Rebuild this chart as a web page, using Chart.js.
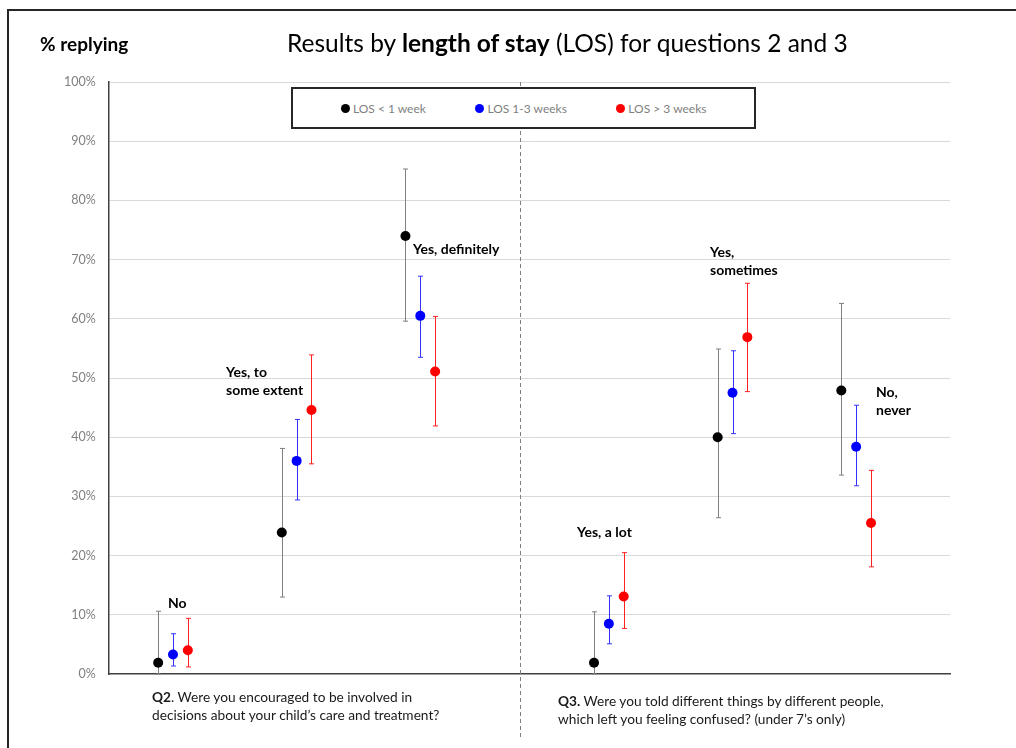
<!DOCTYPE html>
<html>
<head>
<meta charset="utf-8">
<script src="https://cdn.jsdelivr.net/npm/chart.js@4.4.1/dist/chart.umd.min.js"></script>
<style>
  body { margin: 0; background: #fff; }
  #wrap { position: relative; width: 1016px; height: 748px; overflow: hidden; font-family: Lato, sans-serif; }
  #frame { position: absolute; left: 7px; top: 9px; width: 1100px; height: 800px; border-left: 2px solid #262626; border-top: 2px solid #262626; }
  canvas { position: absolute; left: 0; top: 0; }
  .txt { position: absolute; white-space: nowrap; color: #000; }
  #title { left: 287px; top: 28px; font-size: 24.5px; line-height: 30px; }
  #ytitle { left: 40px; top: 33px; font-size: 19px; font-weight: bold; line-height: 22px; }
  #legend { position: absolute; left: 291px; top: 87px; width: 465px; height: 42px; box-sizing: border-box;
            border: 2px solid #262626; background: #fff; display: flex; align-items: center; padding-left: 48px; gap: 49.5px; }
  .item { display: flex; align-items: center; font-size: 12px; color: #7f7f7f; }
  .dot { width: 9px; height: 9px; border-radius: 50%; margin-right: 3px; }
  .lab { font-size: 14px; font-weight: bold; line-height: 17.6px; }
  .q { font-size: 13.7px; line-height: 18px; color: #1a1a1a; }
</style>
</head>
<body>
<div id="wrap">
  <div id="frame"></div>
  <canvas id="chart" width="1016" height="748"></canvas>
  <div id="ytitle" class="txt">% replying</div>
  <div id="title" class="txt">Results by <b>length of stay</b> (LOS) for questions 2 and 3</div>
  <div id="legend"></div>
  <div class="txt q" style="left:152px; top:688px">
    <b>Q2</b>. Were you encouraged to be involved in<br>decisions about your child’s care and treatment?
  </div>
  <div class="txt q" style="left:558px; top:692px">
    <b>Q3.</b> Were you told different things by different people,<br>which left you feeling confused? (under 7’s only)
  </div>
</div>
<script>
// responses for Q2 (first three) and Q3 (last three)
const responses = ['No', 'Yes, to some extent', 'Yes, definitely', 'Yes, a lot', 'Yes, sometimes', 'No, never'];
const responseX = [1, 2, 3, 4.525, 5.525, 6.525];

const seriesNames = ['LOS < 1 week', 'LOS 1-3 weeks', 'LOS > 3 weeks'];

// % replying, with lower / upper confidence limits
const losUnder1 = [1.9, 23.9, 74.0, 1.9, 40.0, 47.9];
const losUnder1Low = [0, 13.0, 59.6, 0, 26.4, 33.6];
const losUnder1High = [10.6, 38.1, 85.3, 10.5, 54.9, 62.6];

const los1to3 = [3.3, 36.0, 60.5, 8.5, 47.5, 38.4];
const los1to3Low = [1.35, 29.4, 53.5, 5.1, 40.6, 31.8];
const los1to3High = [6.8, 43.0, 67.2, 13.2, 54.6, 45.4];

const losOver3 = [4.0, 44.6, 51.1, 13.1, 56.9, 25.5];
const losOver3Low = [1.2, 35.5, 41.9, 7.7, 47.7, 18.1];
const losOver3High = [9.4, 53.9, 60.4, 20.5, 66.0, 34.4];

const yTicks = [0, 10, 20, 30, 40, 50, 60, 70, 80, 90, 100];

// styling / layout
const pointColors = ['#000000', '#0000ff', '#ff0000'];
const errColors = ['#7f7f7f', '#3333ff', '#ff2020'];
const seriesOffset = [-0.12, 0, 0.12];
const dividerX = 3.806;
// label boxes: [left, top] in page pixels
const labelLines = [['No'], ['Yes, to', 'some extent'], ['Yes, definitely'], ['Yes, a lot'], ['Yes,', 'sometimes'], ['No,', 'never']];
const labelPos = [[168, 594], [226, 363], [413, 240], [577, 523], [710, 243], [876, 383]];

const values = [losUnder1, los1to3, losOver3];
const lows = [losUnder1Low, los1to3Low, losOver3Low];
const highs = [losUnder1High, los1to3High, losOver3High];

const datasets = seriesNames.map((name, s) => ({
  label: name,
  data: values[s].map((v, i) => ({ x: responseX[i] + seriesOffset[s], y: v })),
  errLow: lows[s],
  errHigh: highs[s],
  errColor: errColors[s],
  pointRadius: 5,
  pointHoverRadius: 5,
  pointBackgroundColor: pointColors[s],
  pointBorderWidth: 0,
  showLine: false
}));

const errorBars = {
  id: 'errorBars',
  beforeDatasetsDraw(chart) {
    const { ctx, scales: { x, y }, chartArea } = chart;
    ctx.save();
    // dashed divider between the two questions
    const dx = Math.round(x.getPixelForValue(dividerX)) + 0.5;
    ctx.strokeStyle = '#808080';
    ctx.lineWidth = 1;
    ctx.setLineDash([4, 3]);
    ctx.beginPath();
    ctx.moveTo(dx, chartArea.top);
    ctx.lineTo(dx, chart.height - 11);
    ctx.stroke();
    ctx.setLineDash([]);
    chart.data.datasets.forEach((ds) => {
      ctx.strokeStyle = ds.errColor;
      ctx.lineWidth = 1;
      ds.data.forEach((p, i) => {
        const px = Math.round(x.getPixelForValue(p.x)) + 0.5;
        const lo = y.getPixelForValue(ds.errLow[i]);
        const hi = y.getPixelForValue(ds.errHigh[i]);
        ctx.beginPath();
        ctx.moveTo(px, lo); ctx.lineTo(px, hi);
        ctx.moveTo(px - 2.5, hi); ctx.lineTo(px + 2.5, hi);
        ctx.moveTo(px - 2.5, lo); ctx.lineTo(px + 2.5, lo);
        ctx.stroke();
      });
    });
    ctx.restore();
  }
};

new Chart(document.getElementById('chart'), {
  type: 'scatter',
  data: { datasets },
  options: {
    responsive: false,
    animation: false,
    layout: { padding: { left: 0, top: 82, right: 66, bottom: 74 } },
    plugins: { legend: { display: false }, tooltip: { enabled: false } },
    scales: {
      x: {
        type: 'linear', min: 0.48, max: 7.284,
        ticks: { display: false },
        grid: { display: false },
        border: { display: true, color: '#404040', width: 1.5 },
        afterFit: (s) => { s.height = 0; }
      },
      y: {
        min: 0, max: 100,
        afterBuildTicks: (s) => { s.ticks = yTicks.map(v => ({ value: v })); },
        ticks: { padding: 13, color: '#7f7f7f', font: { family: 'Lato', size: 12.5 }, callback: v => v + '%' },
        grid: { drawTicks: false, color: (c) => c.tick && c.tick.value === 0 ? 'rgba(0,0,0,0)' : '#d9d9d9', lineWidth: 1 },
        border: { display: true, color: '#404040', width: 1.5 },
        afterFit: (s) => { s.width = 108.7; }
      }
    }
  },
  plugins: [errorBars]
});

// legend built from the series
const legend = document.getElementById('legend');
seriesNames.forEach((name, s) => {
  const it = document.createElement('div');
  it.className = 'item';
  it.innerHTML = '<span class="dot" style="background:' + pointColors[s] + '"></span>';
  it.appendChild(document.createTextNode(name));
  legend.appendChild(it);
});

// response labels
const wrap = document.getElementById('wrap');
labelLines.forEach((lines, i) => {
  const d = document.createElement('div');
  d.className = 'txt lab';
  d.title = responses[i];
  d.style.left = labelPos[i][0] + 'px';
  d.style.top = labelPos[i][1] + 'px';
  d.innerHTML = lines.join('<br>');
  wrap.appendChild(d);
});
</script>
</body>
</html>
